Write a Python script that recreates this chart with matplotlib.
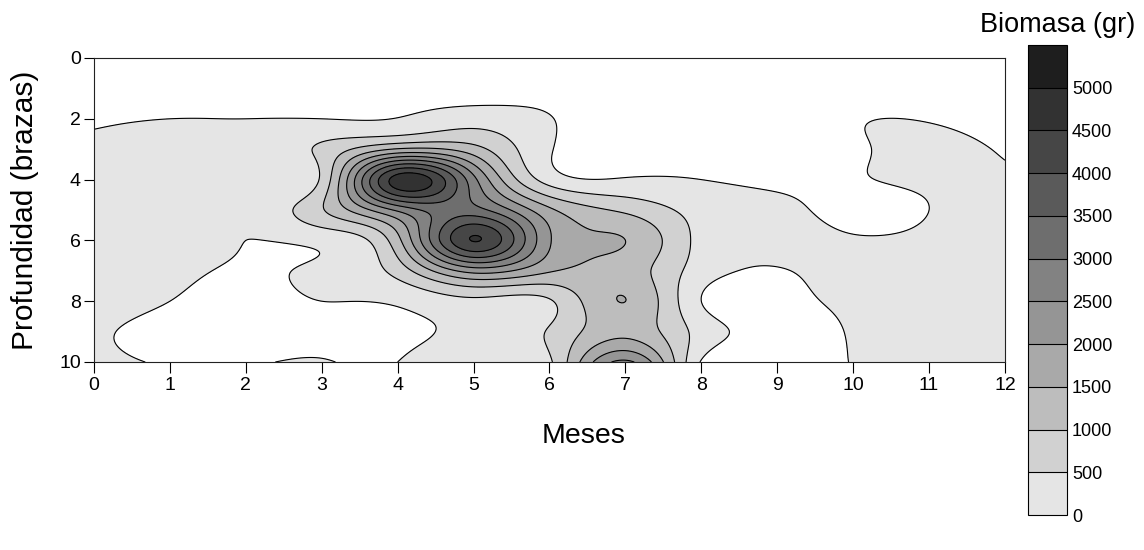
import numpy as np
import matplotlib
matplotlib.use("Agg")
import matplotlib.pyplot as plt

plt.rcParams['font.family'] = ['Liberation Sans', 'DejaVu Sans']

# ---------------- data ----------------
meses = [0, 1, 2, 3, 4, 5, 6, 7, 8, 9, 10, 11, 12]
profundidades = [0, 1, 2, 3, 4, 5, 6, 7, 8, 9, 10]

# biomass (gr) per depth row, one value per month
prof_0  = [-250, -250, -250, -250, -250, -250, -250, -250, -250, -250, -250, -250, -250]
prof_1  = [-160, -150, -150, -150, -150, -250, -150, -200, -200, -200, -180, -180, -200]
prof_2  = [ -40,    0,    0,    0,   15,  275,   20, -200, -200, -200,  -30,  -20, -150]
prof_3  = [  60,   80,  180,  600, 1550, 1200,   40, -250, -150, -150,  -40,   80,  -30]
prof_4  = [ 100,  120,  420,  600, 4750, 2650,  280,   40,    0,  -60,  -20,   40,   40]
prof_5  = [ 120,  150,  120,  950, 2600, 3200, 1600,  900,  300,   80,  -80,    0,  120]
prof_6  = [ 150,  150,    0,  120, 1350, 4520, 2050, 1500,  350,  100,   30,   60,  150]
prof_7  = [ 150,   80,  -40,   70,  700, 2200, 1550, 1300,  250,  -20,  120,  150,  150]
prof_8  = [ 120,    0, -100,    0,   60,  380,  450, 1501,    0, -150,   80,  200,  150]
prof_9  = [  40,  -80, -100,  -50,  -60,  100,  550, 1350,  300, -150,   30,  200,  150]
prof_10 = [  60,  -20,  -20,   10,    0,  150,  420, 2600,  -40, -150,    5,  200,  150]

niveles = [0, 500, 1000, 1500, 2000, 2500, 3000, 3500, 4000, 4500, 5000, 5500]
etiquetas_cb = ['0', '500', '1000', '1500', '2000', '2500', '3000', '3500', '4000', '4500', '5000']
grises = ['#e5e5e5', '#d1d1d1', '#bdbdbd', '#a9a9a9', '#959595', '#828282',
          '#6e6e6e', '#5a5a5a', '#464646', '#323232', '#1e1e1e']

Z = np.array([prof_0, prof_1, prof_2, prof_3, prof_4, prof_5, prof_6,
              prof_7, prof_8, prof_9, prof_10], dtype=float)


# ---------------- smooth gridding (natural cubic spline) ----------------
def spline_matrix(nodes, t):
    nodes = np.asarray(nodes, float)
    n = len(nodes)
    h = np.diff(nodes)
    M = np.zeros((len(t), n))
    for j in range(n):
        y = np.zeros(n)
        y[j] = 1.0
        A = np.zeros((n, n))
        b = np.zeros(n)
        A[0, 0] = 1
        A[-1, -1] = 1
        for i in range(1, n - 1):
            A[i, i - 1] = h[i - 1]
            A[i, i] = 2 * (h[i - 1] + h[i])
            A[i, i + 1] = h[i]
            b[i] = 6 * ((y[i + 1] - y[i]) / h[i] - (y[i] - y[i - 1]) / h[i - 1])
        m = np.linalg.solve(A, b)
        idx = np.clip(np.searchsorted(nodes, t, side='right') - 1, 0, n - 2)
        x0 = nodes[idx]
        hh = h[idx]
        u = (t - x0) / hh
        s = ((1 - u) * y[idx] + u * y[idx + 1]
             + (((1 - u) ** 3 - (1 - u)) * m[idx] + (u ** 3 - u) * m[idx + 1]) * hh ** 2 / 6)
        M[:, j] = s
    return M


xf = np.linspace(min(meses), max(meses), 481)
yf = np.linspace(min(profundidades), max(profundidades), 401)
Mx = spline_matrix(meses, xf)
My = spline_matrix(profundidades, yf)
Zf = My @ Z @ Mx.T
Xf, Yf = np.meshgrid(xf, yf)

# ---------------- figure ----------------
W, H = 1144, 550
fig = plt.figure(figsize=(W / 100, H / 100), dpi=100)
ax = fig.add_axes([94 / W, 1 - 362 / H, 911 / W, 304 / H])

cf = ax.contourf(Xf, Yf, Zf, levels=niveles, colors=grises)
cl = ax.contour(Xf, Yf, Zf, levels=niveles[:-1], colors='black', linewidths=0.8)

ax.set_xlim(0, 12)
ax.set_ylim(10, 0)
ax.set_xticks(meses)
ax.set_yticks([0, 2, 4, 6, 8, 10])
ax.tick_params(axis='x', direction='out', length=8, width=0.8, pad=3, labelsize=14)
ax.tick_params(axis='y', direction='out', length=7, width=0.8, pad=2.5, labelsize=14)
for s in ax.spines.values():
    s.set_linewidth(0.8)
    s.set_color('#222222')

fig.text(584 / W, 1 - 443 / H, 'Meses', ha='center', va='baseline', fontsize=20.5)
fig.text(25 / W, 1 - 210 / H, 'Profundidad (brazas)', rotation=90,
         ha='center', va='center', fontsize=21.5)

# colorbar
cax = fig.add_axes([1028 / W, 1 - 515 / H, 38.5 / W, 470 / H])
cb = fig.colorbar(cf, cax=cax, ticks=niveles[:-1])
cb.ax.set_yticklabels(etiquetas_cb)
cb.add_lines(niveles[1:-1], ['black'] * (len(niveles) - 2), [0.8] * (len(niveles) - 2))
cb.outline.set_linewidth(0.8)
cb.ax.tick_params(length=0, pad=4, labelsize=13)
fig.text(1057.5 / W, 1 - 31.7 / H, 'Biomasa (gr)', ha='center', va='baseline', fontsize=19.5)

fig.savefig('out.png', dpi=100)
